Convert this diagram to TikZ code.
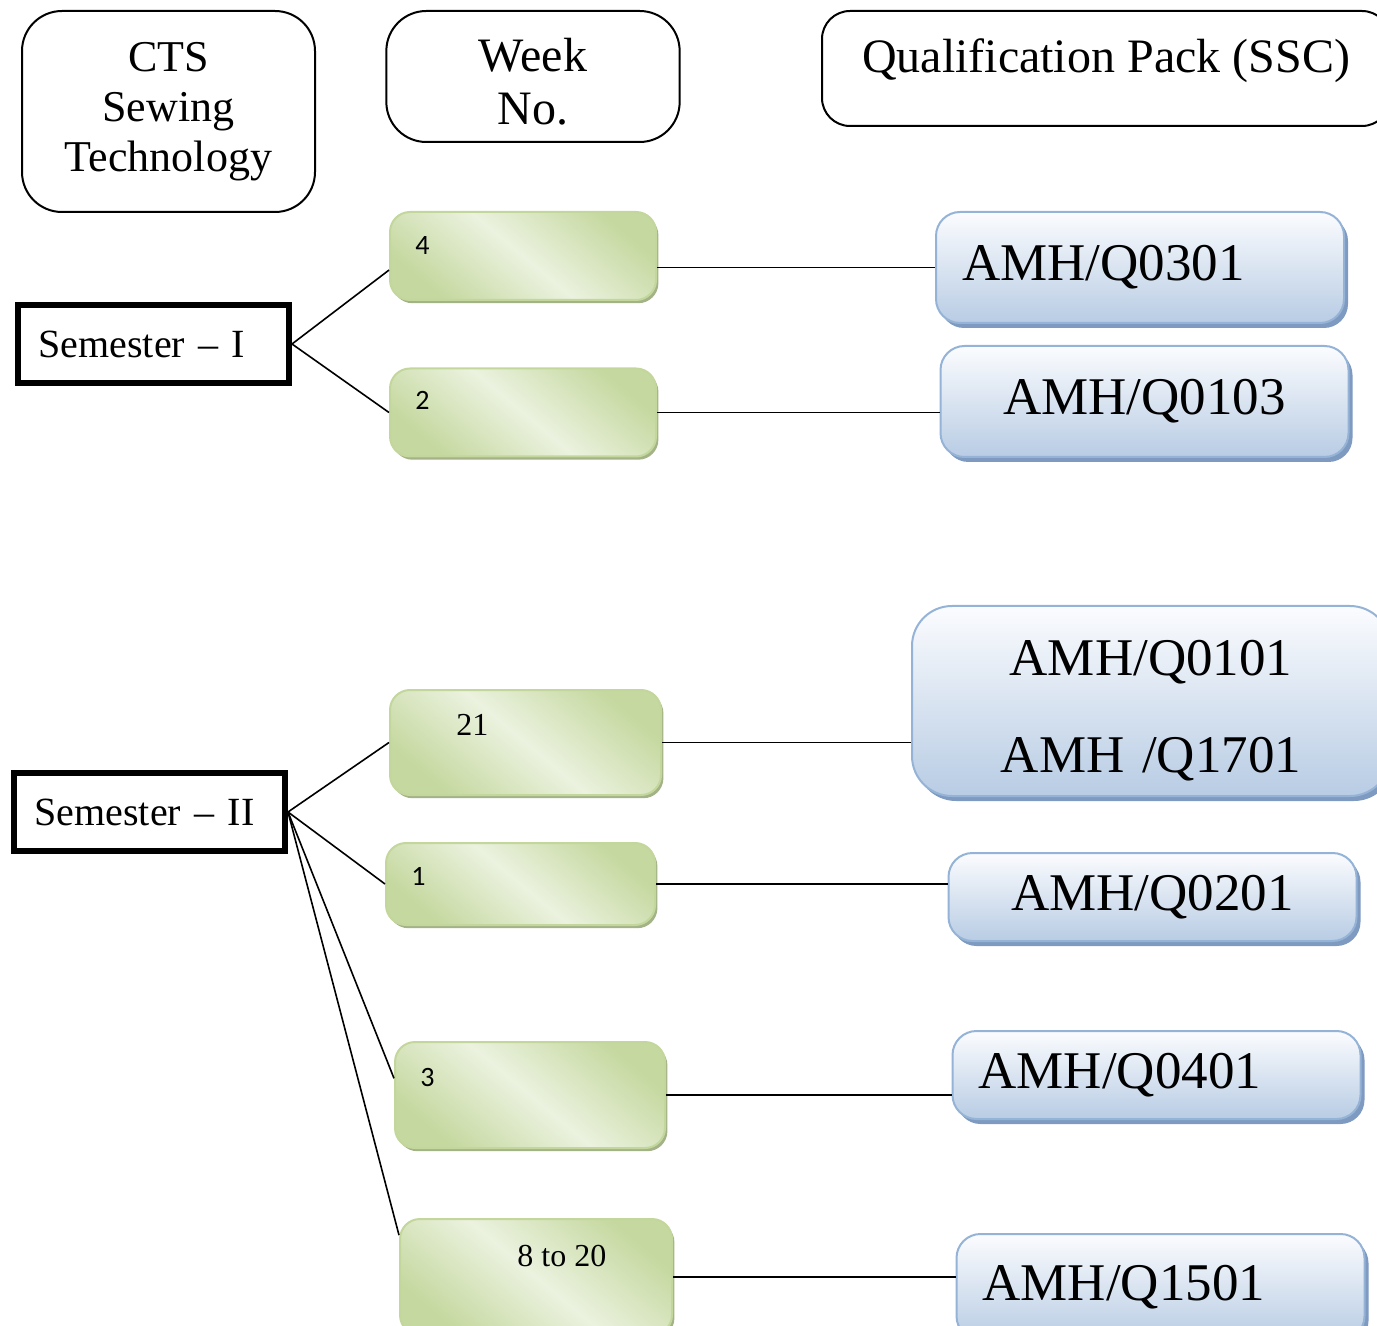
\documentclass[tikz,border=0pt]{standalone}
\usepackage{fontspec}
\setmainfont{Liberation Serif}
\newfontfamily\calibri{Carlito}
\usetikzlibrary{shadows}
\definecolor{wkdark}{HTML}{C5D89F}
\definecolor{wklight}{HTML}{EBF2DF}
\definecolor{wkedge}{HTML}{C3D79C}
\definecolor{wkshadow}{HTML}{A3B387}
\definecolor{qptop}{HTML}{FBFCFE}
\definecolor{qpbottom}{HTML}{B8CCE4}
\definecolor{qpedge}{HTML}{95B3D7}
\definecolor{qpshadow}{HTML}{7E9AC0}
\tikzset{
  hdr/.style={draw, line width=1pt, rounded corners=20pt, align=center},
  sem/.style={draw, line width=3pt, minimum width=135.5pt, minimum height=39pt,
    text width=115pt, inner xsep=10pt, align=left, font=\fontsize{20}{24}\selectfont},
  wkbox/.style={draw=wkedge, line width=1pt, rounded corners=10pt,
    top color=wkdark, bottom color=wkdark, middle color=wklight, shading angle=-40,
    drop shadow={shadow xshift=1.2pt, shadow yshift=-1.6pt, fill=wkshadow, opacity=1}},
  wknum/.style={anchor=base west, inner sep=0pt, font=\calibri\fontsize{14}{16}\selectfont},
  wktxt/.style={anchor=base west, inner sep=0pt, font=\fontsize{16}{18}\selectfont},
  qpbox/.style={draw=qpedge, line width=1pt, rounded corners=12pt,
    top color=qptop, bottom color=qpbottom, minimum width=203.5pt,
    text width=178pt, inner xsep=13pt, align=left, font=\fontsize{26.5}{48.5}\selectfont,
    drop shadow={shadow xshift=2pt, shadow yshift=-2.5pt, fill=qpshadow, opacity=1}},
  link/.style={line width=0.8pt}
}
\begin{document}
\begin{tikzpicture}[x=0.5pt, y=-0.5pt]
\useasboundingbox (0,0) rectangle (1377,1326);

% column heads
\node[hdr, minimum width=146.5pt, minimum height=100.5pt, font=\fontsize{22}{25}\selectfont]
  (cts) at (168.5,111.5) {CTS\\Sewing\\Technology};
\node[hdr, minimum width=146pt, minimum height=65.5pt, text width=140pt, text height=22.3pt,
  inner ysep=2pt, font=\fontsize{24}{26.5}\selectfont] (week) at (533,76.5) {Week\\No.};
\node[hdr, rounded corners=14pt, minimum width=284pt, minimum height=57.5pt, text depth=13pt,
  font=\fontsize{24}{26}\selectfont] (qp) at (1106,68.5) {Qualification Pack (SSC)};

% semesters
\node[sem] (s1) at (153.5,344) {Semester -- I};
\node[sem] (s2) at (149.5,812) {Semester -- II};

% weeks
\node[wkbox, minimum width=133pt, minimum height=44pt] (g4) at (523,256) {};
\node[wkbox, minimum width=133pt, minimum height=44pt] (g2) at (523,412.5) {};
\node[wkbox, minimum width=135.5pt, minimum height=52.5pt] (g21) at (525.5,742.5) {};
\node[wkbox, minimum width=134.5pt, minimum height=41pt] (g1) at (520.5,884) {};
\node[wkbox, minimum width=135pt, minimum height=53pt] (g3) at (530,1095) {};
\node[wkbox, minimum width=136pt, minimum height=58pt] (g820) at (536,1277) {};
\node[wknum] (t4) at (415,255) {4};
\node[wknum] (t2) at (415,410) {2};
\node[wknum] (t1) at (411,885) {1};
\node[wknum] (t3) at (420,1086) {3};
\node[wktxt] (t21) at (456,735) {21};
\node[wktxt] (t820) at (517,1266) {8 to 20};

% qualification packs
\node[qpbox, minimum height=55.5pt] (b1) at (1140,267.5) {AMH/Q0301};
\node[qpbox, minimum height=55.5pt, align=center] (b2) at (1144.5,401.5) {AMH/Q0103};
\node[qpbox, rounded corners=20pt, minimum width=239pt, text width=213pt, minimum height=95pt,
  text height=27pt, align=center] (b3) at (1151,701) {AMH/Q0101\\AMH /Q1701};
\node[qpbox, minimum height=44pt, align=center] (b4) at (1152.5,897) {AMH/Q0201};
\node[qpbox, minimum height=44pt] (b5) at (1156.5,1075) {AMH/Q0401};
\node[qpbox, minimum height=53pt] (b6) at (1160.5,1287) {AMH/Q1501};

% links
\draw[link] (s1.east) -- (g4.186);
\draw[link] (s1.east) -- (g2.west);
\draw[link] (s2.east) -- (g21.west);
\draw[link] (s2.east) -- (g1.west);
\draw[link] (s2.east) -- (g3.173);
\draw[link] (s2.east) -- (g820.163);
\draw[link] (b1.west -| g4.east) -- (b1.west);
\foreach \g/\b in {g2/b2, g21/b3, g1/b4, g3/b5, g820/b6}
  \draw[link] (\g.east) -- (\g.east -| \b.west);

\end{tikzpicture}
\end{document}
